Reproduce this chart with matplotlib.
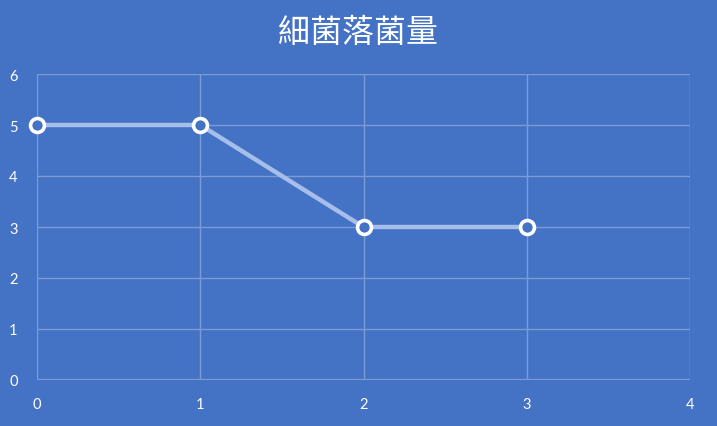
import matplotlib
matplotlib.use("Agg")
import matplotlib.pyplot as plt

x_values = [0, 1, 2, 3]
y_values = [5, 5, 3, 3]
x_ticks = [0, 1, 2, 3, 4]
y_ticks = [0, 1, 2, 3, 4, 5, 6]
title = "細菌落菌量"

bg = "#4472C4"
grid_c = "#7C9BD6"

fig = plt.figure(figsize=(7.17, 4.27), dpi=100, facecolor=bg)
ax = fig.add_axes([37/717, 1-381/427, (690-37)/717, (381-75)/427], facecolor=bg)

ax.plot(x_values, y_values, color="#A6BEE9", lw=3.2, zorder=3,
        marker="o", markersize=10, markerfacecolor=bg,
        markeredgecolor="white", markeredgewidth=2.6, clip_on=False)

ax.set_xlim(0, 4)
ax.set_ylim(0, 6)
ax.set_xticks(x_ticks)
ax.set_yticks(y_ticks)
ax.grid(True, color=grid_c, lw=1.0)
for s in ax.spines.values():
    s.set_visible(False)
ax.axhline(0, color=grid_c, lw=1.6, zorder=2)
ax.tick_params(length=0, colors="white", labelsize=10.5)
ax.tick_params(axis="x", pad=12)
ax.tick_params(axis="y", pad=14)
for lab in ax.get_xticklabels() + ax.get_yticklabels():
    lab.set_family(["Lato", "DejaVu Sans"])
    lab.set_color("white")

fig.text(358/717, 1-33/427, title, ha="center", va="center", color="white",
         fontsize=23, fontweight="medium",
         family=["Noto Sans CJK TC", "DejaVu Sans"])

fig.savefig("out.png", dpi=100, facecolor=bg)
